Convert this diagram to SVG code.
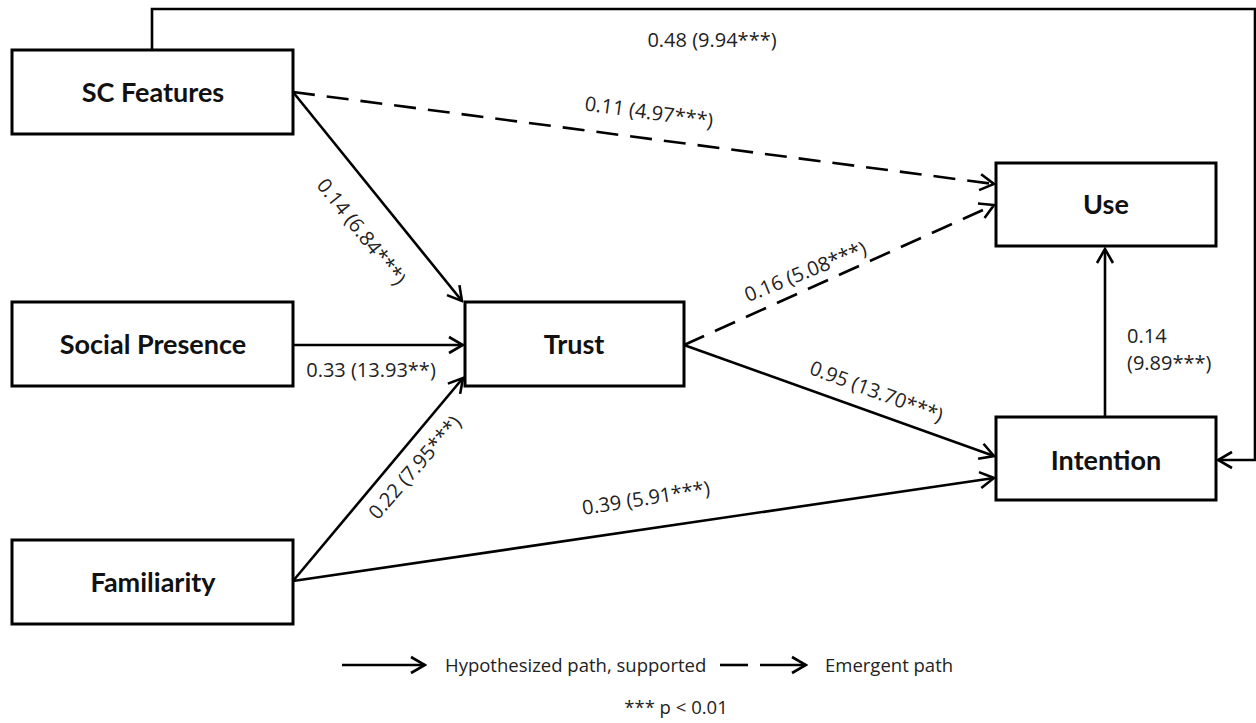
<svg xmlns="http://www.w3.org/2000/svg" width="1256" height="723" viewBox="0 0 1256 723">
<defs>
<marker id="arr" markerUnits="userSpaceOnUse" markerWidth="20" markerHeight="20" viewBox="0 0 20 20" refX="18" refY="10" orient="auto">
<path d="M4,2 L18,10 L4,18" fill="none" stroke="#000" stroke-width="2.6"/>
</marker>
</defs>
<style>
.box{fill:#fff;stroke:#000;stroke-width:3}
.nl{font-family:Lato,"Open Sans",sans-serif;font-weight:bold;font-size:27px;fill:#111;text-anchor:middle}
.ln{fill:none;stroke:#000;stroke-width:2.6}
.ds{stroke-dasharray:22 12}
.lb{font-family:"Open Sans",Lato,sans-serif;font-size:20px;fill:#222;text-anchor:middle}
.ls{font-family:"Open Sans",Lato,sans-serif;font-size:20px;fill:#222}
.lg{font-family:"Open Sans",Lato,sans-serif;font-size:18.5px;fill:#222}
</style>
<rect width="1256" height="723" fill="#fff"/>
<g id="connectors">
<path class="ln" d="M152,50 L152,9 L1255,9 L1255,460 L1218,460" marker-end="url(#arr)"/>
<line class="ln" x1="293" y1="92" x2="462" y2="301" marker-end="url(#arr)"/>
<line class="ln ds" x1="293" y1="92" x2="994" y2="184" marker-end="url(#arr)"/>
<line class="ln" x1="293" y1="345" x2="463" y2="345" marker-end="url(#arr)"/>
<line class="ln" x1="293" y1="581" x2="463" y2="378" marker-end="url(#arr)"/>
<line class="ln" x1="293" y1="581" x2="994" y2="478" marker-end="url(#arr)"/>
<line class="ln ds" x1="684" y1="345" x2="994" y2="205" marker-end="url(#arr)"/>
<line class="ln" x1="684" y1="345" x2="994" y2="456" marker-end="url(#arr)"/>
<line class="ln" x1="1105" y1="416" x2="1105" y2="249" marker-end="url(#arr)"/>
</g>
<g id="node-sc"><rect class="box" x="12" y="50" width="281" height="84"/><text class="nl" x="153" y="102">SC Features</text></g>
<g id="node-sp"><rect class="box" x="12" y="302" width="281" height="84"/><text class="nl" x="153" y="354">Social Presence</text></g>
<g id="node-fam"><rect class="box" x="12" y="540" width="281" height="84"/><text class="nl" x="153" y="592">Familiarity</text></g>
<g id="node-trust"><rect class="box" x="465" y="302" width="219" height="84"/><text class="nl" x="574" y="354">Trust</text></g>
<g id="node-use"><rect class="box" x="996" y="163" width="220" height="83"/><text class="nl" x="1106" y="214">Use</text></g>
<g id="node-int"><rect class="box" x="996" y="417" width="220" height="83"/><text class="nl" x="1106" y="470">Intention</text></g>
<g id="labels">
<text class="lb" x="712" y="47">0.48 (9.94***)</text>
<text class="lb" transform="translate(648,119) rotate(7.8)">0.11 (4.97***)</text>
<text class="lb" transform="translate(356,236) rotate(51.5)">0.14 (6.84***)</text>
<text class="lb" x="371" y="377">0.33 (13.93**)</text>
<text class="lb" transform="translate(808,278) rotate(-22)">0.16 (5.08***)</text>
<text class="lb" transform="translate(874,398) rotate(20.5)">0.95 (13.70***)</text>
<text class="lb" transform="translate(420,472) rotate(-49)">0.22 (7.95***)</text>
<text class="lb" transform="translate(647,505) rotate(-9)">0.39 (5.91***)</text>
<text class="ls" x="1127" y="343">0.14</text>
<text class="ls" x="1127" y="370">(9.89***)</text>
</g>
<g id="legend">
<line class="ln" x1="342" y1="665" x2="425" y2="665" marker-end="url(#arr)"/>
<text class="lg" x="445" y="672">Hypothesized path, supported</text>
<line class="ln" x1="720" y1="665" x2="748" y2="665"/>
<line class="ln" x1="760" y1="665" x2="806" y2="665" marker-end="url(#arr)"/>
<text class="lg" x="825" y="672">Emergent path</text>
<text class="lg" x="676" y="714" text-anchor="middle">*** p &lt; 0.01</text>
</g>
</svg>
